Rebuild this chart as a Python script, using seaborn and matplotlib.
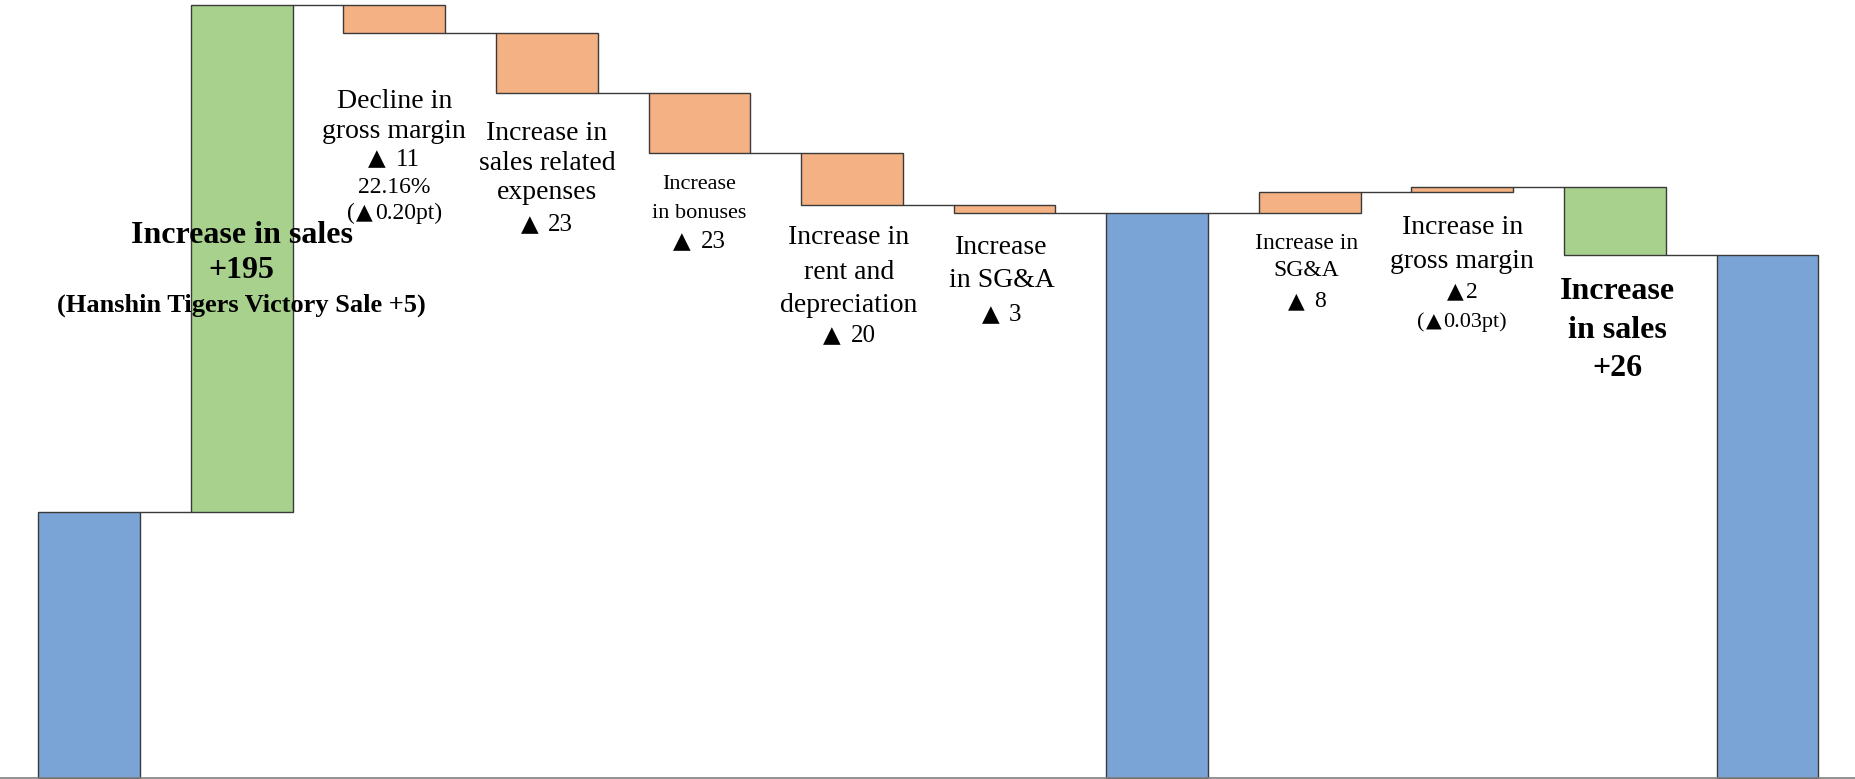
import re
import numpy as np
import pandas as pd
import matplotlib
matplotlib.use("Agg")
import matplotlib.pyplot as plt
import matplotlib.transforms as mtransforms
import seaborn as sns

# ---------------- data ----------------
steps = ["Start", "Sales up", "Gross margin", "Sales expenses", "Bonuses",
         "Rent & depreciation", "SG&A", "Mid total", "SG&A 2", "Gross margin 2",
         "Sales up 2", "End total"]
kinds = ["total", "up", "cost", "cost", "cost", "cost", "cost", "total",
         "cost", "cost", "up", "total"]
start_value = 102
deltas = [None, 195, -11, -23, -23, -20, -3, None, 8, 2, -26, None]

colors = {"total": "#7BA4D6", "up": "#A9D18E", "cost": "#F4B183"}

# label blocks: (x position, lines of (text, size, weight, y))
labels = [
    (1.00, [("Increase in sales", 23, "bold", 209.1),
            ("+195", 23, "bold", 195.5),
            ("(Hanshin Tigers Victory Sale +5)", 19, "bold", 182.3)]),
    (2.00, [("Decline in", 20, "normal", 260.5),
            ("gross margin", 20, "normal", 249.1),
            ("\u25B2 11", 18, "normal", 238.2),
            ("22.16%", 17, "normal", 227.7),
            ("(\u25B20.20pt)", 17, "normal", 217.7)]),
    (3.00, [("Increase in", 20, "normal", 248.2),
            ("sales related", 20, "normal", 236.8),
            ("expenses", 20, "normal", 225.5),
            ("\u25B2 23", 18, "normal", 213.2)]),
    (4.00, [("Increase", 16, "normal", 228.6),
            ("in bonuses", 16, "normal", 217.7),
            ("\u25B2 23", 18, "normal", 206.4)]),
    (4.98, [("Increase in", 20, "normal", 208.2),
            ("rent and", 20, "normal", 195.0),
            ("depreciation", 20, "normal", 182.3),
            ("\u25B2 20", 18, "normal", 170.5)]),
    (5.98, [("Increase", 20, "normal", 204.5),
            ("in SG&A", 20, "normal", 191.8),
            ("\u25B2 3", 18, "normal", 178.6)]),
    (7.98, [("Increase in", 17, "normal", 205.9),
            ("SG&A", 17, "normal", 195.5),
            ("\u25B2 8", 17, "normal", 183.6)]),
    (9.00, [("Increase in", 20, "normal", 212.3),
            ("gross margin", 20, "normal", 199.1),
            ("\u25B22", 17, "normal", 187.3),
            ("(\u25B20.03pt)", 16, "normal", 175.9)]),
    (10.02, [("Increase", 23, "bold", 187.7),
             ("in sales", 23, "bold", 172.7),
             ("+26", 23, "bold", 158.2)]),
]

# ---------------- compute waterfall ----------------
bottoms, heights, levels = [], [], []
level = start_value
for k, d in zip(kinds, deltas):
    if k == "total":
        bottoms.append(0)
        heights.append(level)
    else:
        new = level + d
        bottoms.append(min(level, new))
        heights.append(abs(d))
        level = new
    levels.append(level)

df = pd.DataFrame({"step": steps, "height": heights, "bottom": bottoms, "kind": kinds})

sns.set_theme(style="white")
plt.rcParams["font.family"] = ["Liberation Serif", "Noto Sans CJK JP", "DejaVu Sans"]

DPI = 100
fig = plt.figure(figsize=(18.55, 7.79), dpi=DPI)
ax = fig.add_axes([0, 0, 1, 1])

W = 0.667
sns.barplot(data=df, x="step", y="height", order=steps, bottom=df["bottom"].to_numpy(),
            width=W, color="#7BA4D6", edgecolor="#3a3a3a", linewidth=1.0, ax=ax,
            errorbar=None, saturation=1)
for p, k in zip(ax.patches, kinds):
    p.set_facecolor(colors[k])

# connectors
for i in range(len(steps) - 1):
    lv = levels[i]
    ax.plot([i + W / 2, i + 1 - W / 2], [lv, lv], color="#3a3a3a", lw=1.0, zorder=3)

YMIN, YMAX = -0.5, 298.8
ax.set_xlim(-0.585, 11.574)
ax.set_ylim(YMIN, YMAX)

renderer = fig.canvas.get_renderer()
px_per_unit = fig.get_figheight() * DPI / (YMAX - YMIN)
TRI = "\u25B2"
NUDGE = -0.8


def draw_line(xc, y, txt, size, weight):
    y = y + NUDGE
    if TRI not in txt:
        ax.text(xc, y, txt, ha="center", va="center", fontsize=size,
                fontweight=weight, color="black", zorder=5)
        return
    size_px = size * DPI / 72.0
    baseline = y - 0.233 * size_px / px_per_unit
    tokens = [t for t in re.split("(" + TRI + ")", txt) if t != ""]
    pieces, gaps = [], []
    pending_spaces = 0
    for tok in tokens:
        lead = len(tok) - len(tok.lstrip(" "))
        trail = len(tok) - len(tok.rstrip(" "))
        core = tok.strip(" ")
        pending_spaces += lead
        if core:
            if pieces:
                gaps.append((0.07 + 0.33 * pending_spaces) * size_px)
            pieces.append(core)
            pending_spaces = 0
            pending_spaces += trail
    objs = []
    for p in pieces:
        if p == TRI:
            t = ax.text(xc, baseline, p, ha="left", va="baseline", fontsize=size * 0.92,
                        family=["DejaVu Sans"], color="black", zorder=5)
        else:
            t = ax.text(xc, baseline, p, ha="left", va="baseline", fontsize=size,
                        fontweight=weight, color="black", zorder=5)
        objs.append(t)
    widths = [t.get_window_extent(renderer).width for t in objs]
    total = sum(widths) + sum(gaps)
    off = -total / 2.0
    for i, (t, w) in enumerate(zip(objs, widths)):
        t.set_transform(mtransforms.offset_copy(ax.transData, fig=fig, x=off, y=0,
                                                units="dots"))
        off += w
        if i < len(gaps):
            off += gaps[i]


for xc, lines in labels:
    for txt, size, weight, y in lines:
        draw_line(xc, y, txt, size, weight)

ax.set_xlabel("")
ax.set_ylabel("")
ax.set_xticks([])
ax.set_yticks([])
for s in ["top", "left", "right"]:
    ax.spines[s].set_visible(False)
ax.spines["bottom"].set_position(("data", 0))
ax.spines["bottom"].set_color("#7f7f7f")
ax.spines["bottom"].set_linewidth(1.2)
ax.set_facecolor("white")
fig.patch.set_facecolor("white")

fig.savefig("out.png", dpi=DPI)
